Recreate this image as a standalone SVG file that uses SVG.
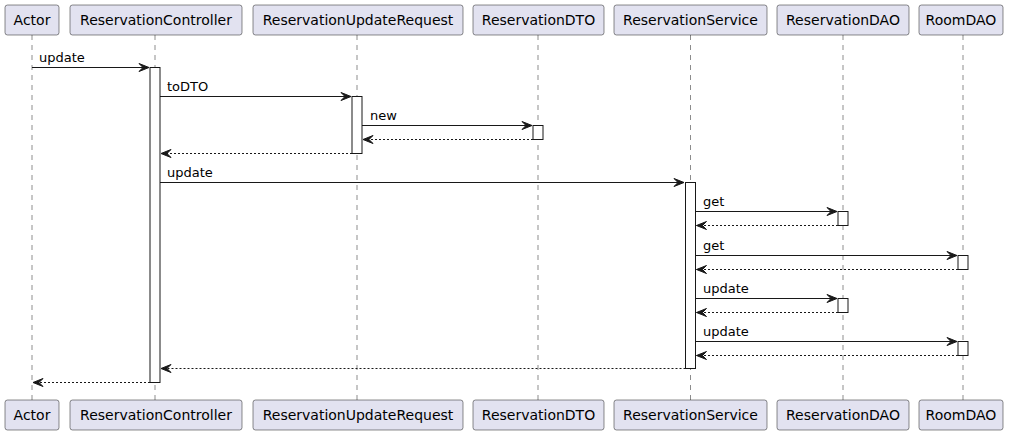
<svg xmlns="http://www.w3.org/2000/svg" width="1012" height="435" viewBox="0 0 1012 435">
<defs>
<style>
.pbox{fill:#E2E2F0;stroke:#181818;stroke-width:0.5}
.ptxt{font-family:"DejaVu Sans",sans-serif;font-size:14px;fill:#000;text-anchor:middle}
.life{stroke:#181818;stroke-width:0.5;stroke-dasharray:5,5;fill:none}
.act{fill:#FFFFFF;stroke:#181818;stroke-width:1}
.msg{stroke:#181818;stroke-width:1;fill:none}
.ret{stroke:#181818;stroke-width:1;fill:none;stroke-dasharray:2,2}
.mtxt{font-family:"DejaVu Sans",sans-serif;font-size:13px;fill:#000}
</style>
<marker id="ah" viewBox="-1 -1 12 10" refX="10" refY="4" markerWidth="12" markerHeight="10" markerUnits="userSpaceOnUse" orient="auto" overflow="visible">
<polygon points="0,0 10,4 0,8 4,4" fill="#181818" stroke="#181818" stroke-width="1" stroke-linejoin="miter"/>
</marker>
</defs>
<g id="lifelines">
<line class="life" x1="32" y1="35" x2="32" y2="400"/>
<line class="life" x1="155" y1="35" x2="155" y2="400"/>
<line class="life" x1="357" y1="35" x2="357" y2="400"/>
<line class="life" x1="538" y1="35" x2="538" y2="400"/>
<line class="life" x1="690.5" y1="35" x2="690.5" y2="400"/>
<line class="life" x1="843" y1="35" x2="843" y2="400"/>
<line class="life" x1="963" y1="35" x2="963" y2="400"/>
</g>
<g id="Actor">
<rect class="pbox" x="5" y="5" width="54" height="30" rx="2.5"/>
<text class="ptxt" x="32" y="25">Actor</text>
<rect class="pbox" x="5" y="400" width="54" height="30" rx="2.5"/>
<text class="ptxt" x="32" y="420">Actor</text>
</g>
<g id="ReservationController">
<rect class="pbox" x="70" y="5" width="172" height="30" rx="2.5"/>
<text class="ptxt" x="156" y="25">ReservationController</text>
<rect class="pbox" x="70" y="400" width="172" height="30" rx="2.5"/>
<text class="ptxt" x="156" y="420">ReservationController</text>
<rect class="act" x="150" y="67.5" width="10" height="315"/>
</g>
<g id="ReservationUpdateRequest">
<rect class="pbox" x="253" y="5" width="210" height="30" rx="2.5"/>
<text class="ptxt" x="358" y="25">ReservationUpdateRequest</text>
<rect class="pbox" x="253" y="400" width="210" height="30" rx="2.5"/>
<text class="ptxt" x="358" y="420">ReservationUpdateRequest</text>
<rect class="act" x="352" y="96.5" width="10" height="57"/>
</g>
<g id="ReservationDTO">
<rect class="pbox" x="473" y="5" width="131" height="30" rx="2.5"/>
<text class="ptxt" x="538.5" y="25">ReservationDTO</text>
<rect class="pbox" x="473" y="400" width="131" height="30" rx="2.5"/>
<text class="ptxt" x="538.5" y="420">ReservationDTO</text>
<rect class="act" x="533" y="125.5" width="10" height="14"/>
</g>
<g id="ReservationService">
<rect class="pbox" x="614" y="5" width="153" height="30" rx="2.5"/>
<text class="ptxt" x="690.5" y="25">ReservationService</text>
<rect class="pbox" x="614" y="400" width="153" height="30" rx="2.5"/>
<text class="ptxt" x="690.5" y="420">ReservationService</text>
<rect class="act" x="685.5" y="182.5" width="10" height="186"/>
</g>
<g id="ReservationDAO">
<rect class="pbox" x="777" y="5" width="132" height="30" rx="2.5"/>
<text class="ptxt" x="843" y="25">ReservationDAO</text>
<rect class="pbox" x="777" y="400" width="132" height="30" rx="2.5"/>
<text class="ptxt" x="843" y="420">ReservationDAO</text>
<rect class="act" x="838" y="211.5" width="10" height="14"/>
<rect class="act" x="838" y="298.5" width="10" height="14"/>
</g>
<g id="RoomDAO">
<rect class="pbox" x="919" y="5" width="84" height="30" rx="2.5"/>
<text class="ptxt" x="961" y="25">RoomDAO</text>
<rect class="pbox" x="919" y="400" width="84" height="30" rx="2.5"/>
<text class="ptxt" x="961" y="420">RoomDAO</text>
<rect class="act" x="958" y="255.5" width="10" height="14"/>
<rect class="act" x="958" y="341.5" width="10" height="14"/>
</g>
<g id="connectors">
<line class="msg" x1="32" y1="67.5" x2="149" y2="67.5" marker-end="url(#ah)"/>
<text class="mtxt" x="39" y="62">update</text>
<line class="msg" x1="160" y1="96.5" x2="351" y2="96.5" marker-end="url(#ah)"/>
<text class="mtxt" x="167" y="91">toDTO</text>
<line class="msg" x1="362" y1="125.5" x2="532" y2="125.5" marker-end="url(#ah)"/>
<text class="mtxt" x="370" y="120">new</text>
<line class="ret" x1="533" y1="139.5" x2="363" y2="139.5" marker-end="url(#ah)"/>
<line class="ret" x1="352" y1="153.5" x2="161" y2="153.5" marker-end="url(#ah)"/>
<line class="msg" x1="160" y1="182.5" x2="684" y2="182.5" marker-end="url(#ah)"/>
<text class="mtxt" x="167" y="177">update</text>
<line class="msg" x1="695.5" y1="211.5" x2="837" y2="211.5" marker-end="url(#ah)"/>
<text class="mtxt" x="703" y="206">get</text>
<line class="ret" x1="838" y1="225.5" x2="696.5" y2="225.5" marker-end="url(#ah)"/>
<line class="msg" x1="695.5" y1="255.5" x2="957" y2="255.5" marker-end="url(#ah)"/>
<text class="mtxt" x="703" y="250">get</text>
<line class="ret" x1="958" y1="269.5" x2="696.5" y2="269.5" marker-end="url(#ah)"/>
<line class="msg" x1="695.5" y1="298.5" x2="837" y2="298.5" marker-end="url(#ah)"/>
<text class="mtxt" x="703" y="293">update</text>
<line class="ret" x1="838" y1="312.5" x2="696.5" y2="312.5" marker-end="url(#ah)"/>
<line class="msg" x1="695.5" y1="341.5" x2="957" y2="341.5" marker-end="url(#ah)"/>
<text class="mtxt" x="703" y="336">update</text>
<line class="ret" x1="958" y1="355.5" x2="696.5" y2="355.5" marker-end="url(#ah)"/>
<line class="ret" x1="685.5" y1="368.5" x2="161" y2="368.5" marker-end="url(#ah)"/>
<line class="ret" x1="150" y1="382.5" x2="33" y2="382.5" marker-end="url(#ah)"/>
</g>
</svg>
